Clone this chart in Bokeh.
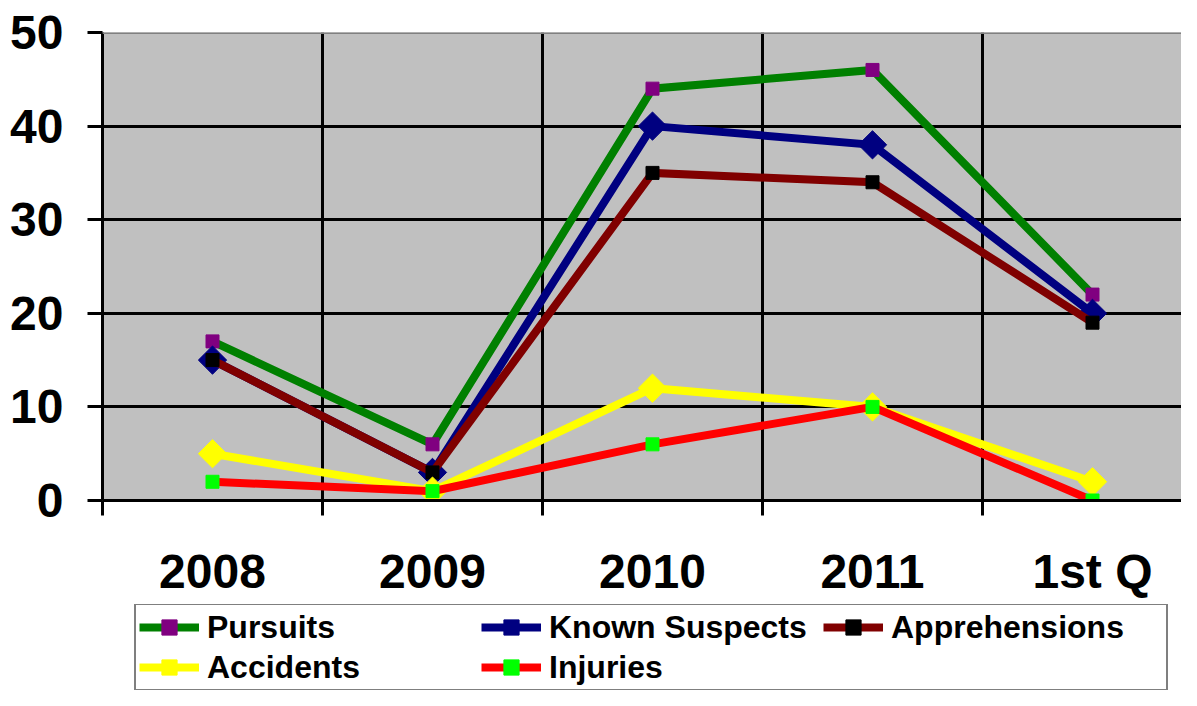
import numpy as np
from bokeh.plotting import figure
from bokeh.layouts import column
from bokeh.models import Range1d, FixedTicker, Legend, LegendItem, Span
from bokeh.embed import file_html
from bokeh.resources import INLINE

# ---- data ----
categories = ["2008", "2009", "2010", "2011", "1st Q"]
series_names = ["Pursuits", "Known Suspects", "Apprehensions", "Accidents", "Injuries"]
pursuits = [17, 6, 44, 46, 22]
known_suspects = [15, 3, 40, 38, 20]
apprehensions = [15, 3, 35, 34, 19]
accidents = [5, 1, 12, 10, 2]
injuries = [2, 1, 6, 10, 0]
y_ticks = [0, 10, 20, 30, 40, 50]

values = [pursuits, known_suspects, apprehensions, accidents, injuries]

# ---- styles ----
styles = [
    dict(line="#008000", mfill="#800080", size=13, angle=0.0),
    dict(line="#000080", mfill="#000080", size=20, angle=np.pi / 4),
    dict(line="#800000", mfill="#000000", size=13, angle=0.0),
    dict(line="#FFFF00", mfill="#FFFF00", size=20, angle=np.pi / 4),
    dict(line="#FF0000", mfill="#00FF00", size=13, angle=0.0),
]

FONT = "Liberation Sans"
W = 1181
x = list(range(len(categories)))

p = figure(width=W, height=604, output_backend="svg", toolbar_location=None,
           x_range=Range1d(-0.5, len(categories) - 0.5 - 21 / 220), y_range=Range1d(0, 50),
           min_border_left=102, min_border_top=32, min_border_right=0, min_border_bottom=104)

p.background_fill_color = "#C0C0C0"
p.border_fill_color = "white"
p.outline_line_color = None

# y axis
p.yaxis.ticker = FixedTicker(ticks=y_ticks)
p.yaxis.major_tick_out = 15
p.yaxis.major_tick_in = 0
p.yaxis.minor_tick_line_color = None
p.yaxis.axis_line_width = 3
p.yaxis.axis_line_color = "black"
p.yaxis.major_tick_line_width = 3
p.yaxis.major_tick_line_color = "black"
p.yaxis.major_label_text_font = FONT
p.yaxis.major_label_text_font_style = "bold"
p.yaxis.major_label_text_font_size = "48px"
p.yaxis.major_label_text_color = "black"
p.yaxis.major_label_standoff = 24

# x axis
p.xaxis.ticker = FixedTicker(ticks=x, minor_ticks=[i - 0.5 for i in range(len(categories) + 1)])
p.xaxis.major_label_overrides = {i: c for i, c in enumerate(categories)}
p.xaxis.major_tick_out = 0
p.xaxis.major_tick_in = 0
p.xaxis.major_tick_line_color = None
p.xaxis.minor_tick_out = 15
p.xaxis.minor_tick_in = 0
p.xaxis.minor_tick_line_width = 3
p.xaxis.minor_tick_line_color = "black"
p.xaxis.axis_line_width = 3
p.xaxis.axis_line_color = "black"
p.xaxis.major_label_text_font = FONT
p.xaxis.major_label_text_font_style = "bold"
p.xaxis.major_label_text_font_size = "48px"
p.xaxis.major_label_text_color = "black"
p.xaxis.major_label_standoff = 29

# grids
p.xgrid.ticker = FixedTicker(ticks=[i + 0.5 for i in range(len(categories) - 1)])
p.xgrid.grid_line_color = "black"
p.xgrid.grid_line_width = 3
p.ygrid.ticker = FixedTicker(ticks=y_ticks[1:-1])
p.ygrid.grid_line_color = "black"
p.ygrid.grid_line_width = 3
p.add_layout(Span(location=y_ticks[-1], dimension="width", line_color="#808080", line_width=3))

for vals, st in zip(values, styles):
    p.line(x, vals, line_color=st["line"], line_width=8, line_join="miter")
    p.scatter(x, vals, marker="square", size=st["size"], angle=st["angle"],
              fill_color=st["mfill"], line_color=st["mfill"], line_width=1)

# ---- legend panel (separate figure below the chart) ----
lf = figure(width=W, height=86, output_backend="svg", toolbar_location=None,
            x_axis_type=None, y_axis_type=None, min_border=0,
            x_range=Range1d(0, 1), y_range=Range1d(0, 1))
lf.grid.visible = False
lf.outline_line_color = None
lf.background_fill_color = "white"
lf.border_fill_color = "white"

items = []
for name, st in zip(series_names, styles):
    ln = lf.line([np.nan], [np.nan], line_color=st["line"], line_width=8)
    sc = lf.scatter([np.nan], [np.nan], marker="square", size=st["size"],
                    fill_color=st["mfill"], line_color=st["mfill"], line_width=1)
    items.append(LegendItem(label=name, renderers=[ln, sc]))

legend = Legend(items=items, location=(32, -1), orientation="horizontal", ncols=3,
                glyph_width=60, glyph_height=38, label_standoff=8, label_width=272,
                spacing=2, padding=3, margin=0,
                border_line_color="black", border_line_width=2,
                background_fill_color="white", background_fill_alpha=1.0,
                label_text_font=FONT, label_text_font_style="bold",
                label_text_font_size="32px", label_text_color="black")
lf.add_layout(legend, "center")

layout = column(p, lf, spacing=0)
open("out.html", "w").write(file_html(layout, INLINE))
